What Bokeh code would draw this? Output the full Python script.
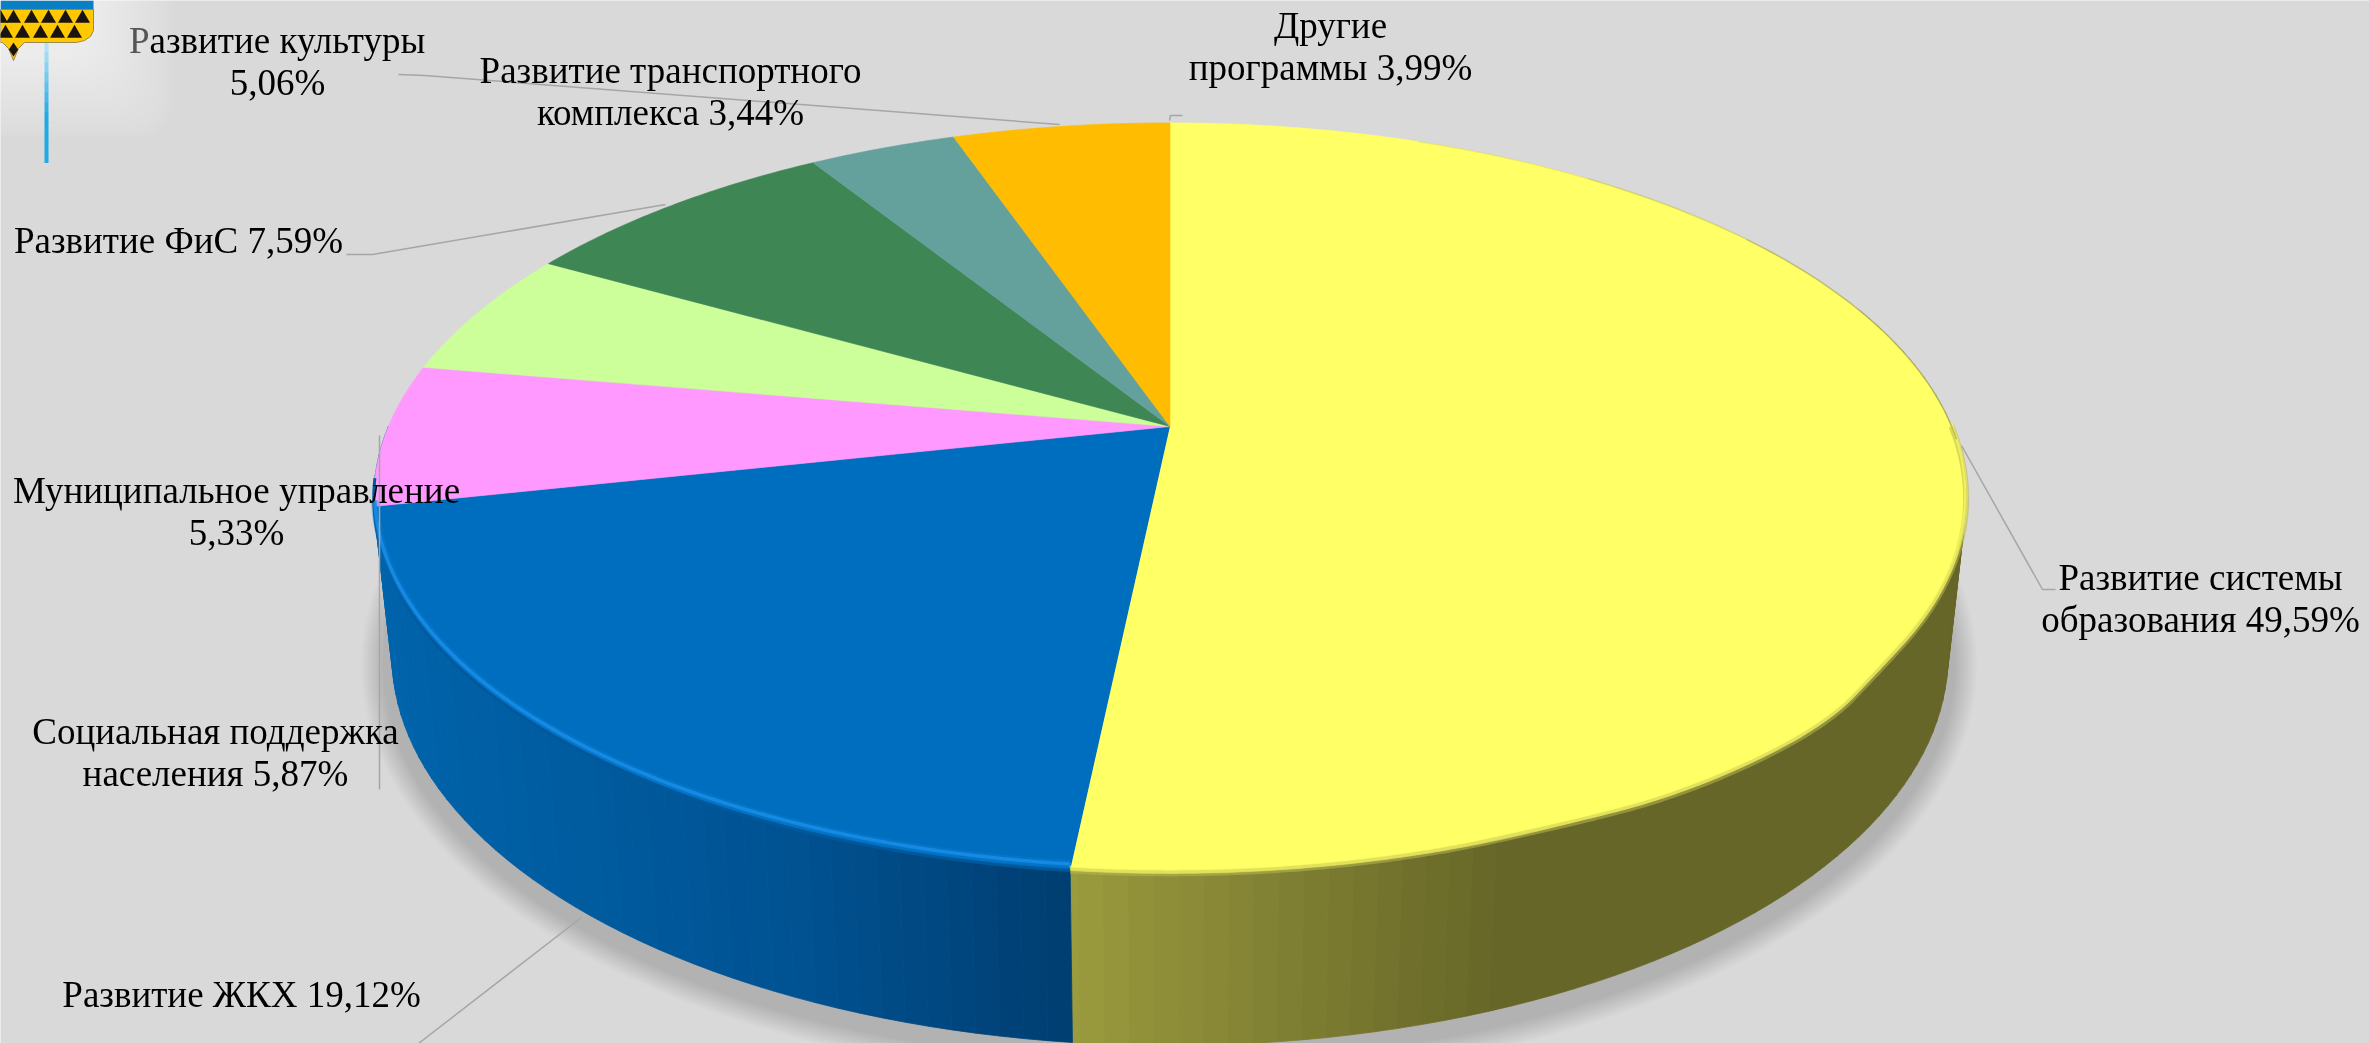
import math
from bokeh.embed import file_html
from bokeh.resources import INLINE
from bokeh.plotting import figure
from bokeh.models import Range1d
from bokeh.core.properties import value

# ---- data ----
slice_names = ["Развитие системы образования", "Развитие ЖКХ", "Социальная поддержка населения",
               "Муниципальное управление", "Развитие ФиС", "Развитие транспортного комплекса",
               "Развитие культуры"]
# visible share of the drawn circle (%), clockwise from 12 o'clock
slice_shares = [51.65, 19.95, 6.1, 5.5, 7.9, 3.6, 5.3]
slice_colors = ["#FFFF66", "#006EBF", "#FF99FF", "#CCFF99", "#3F8655", "#64A19D", "#FFBC00"]

label_lines = [
    ["Развитие системы", "образования 49,59%"],
    ["Развитие ЖКХ 19,12%"],
    ["Социальная поддержка", "населения 5,87%"],
    ["Муниципальное управление", "5,33%"],
    ["Развитие ФиС 7,59%"],
    ["Развитие транспортного", "комплекса 3,44%"],
    ["азвитие культуры", "5,06%"],
    ["Другие", "программы 3,99%"],
]

# ---- layout (page pixels) ----
W, H = 2369, 1043
BG = "#D9D9D9"
CX = 1169.5
TOP = dict(cy=426.0, A=781.6, B=361.6)
LOW = dict(cy=580.5, A=763.7, B=375.8)
K = 0.191
SHADOW = dict(cx=1168.5, cy=665.0, a=778.0, b=390.0)
label_xy = [(2200, 576.5), (241, 994), (215, 731), (236, 489.5), (178, 240), (670, 69.5), (128, 39.5), (1330, 25)]
label_anchor = ["center"] * 8
label_anchor[6] = "left"
LINE_H = 42
LABEL_PT = "37px"
FONT = value("Liberation Serif")
leaders = [
    ([1961, 2042, 2055], [445, 589, 589]),
    ([581, 418], [917, 1043]),
    ([379, 379], [435, 789]),
    ([346, 372, 665], [254, 254, 204]),
    ([398, 424, 1059], [74, 75, 124]),
    ([1169, 1170, 1182], [120, 115, 115]),
]
LEADER = "#A6A6A6"
yellow_rim_x = [1580, 1667, 1760, 1833, 1875]
yellow_rim_y = [821, 798, 760, 718, 674]

p = figure(width=W, height=H, x_range=Range1d(0, W), y_range=Range1d(H, 0),
           toolbar_location=None, output_backend="svg", min_border=0,
           background_fill_color=BG, border_fill_color=BG, outline_line_color=None)
p.axis.visible = False
p.grid.visible = False
p.styles = {"position": "fixed", "left": "0", "top": "0"}


def pt(g, theta):
    """theta in degrees clockwise from the far point of the circle."""
    t = math.radians(theta)
    u, v = math.sin(t), -math.cos(t)
    d = 1 - K * v
    return CX + g["A"] * u / d, g["cy"] + g["B"] * v / d


def arc(g, a0, a1, step=1.0):
    n = max(2, int(abs(a1 - a0) / step) + 1)
    pts = [pt(g, a0 + (a1 - a0) * i / (n - 1)) for i in range(n)]
    return [q[0] for q in pts], [q[1] for q in pts]


def lerp(c0, c1, t):
    t = max(0.0, min(1.0, t))
    return tuple(int(round(a + (b - a) * t)) for a, b in zip(c0, c1))


def hexc(c):
    return "#%02X%02X%02X" % c


def smooth(pts, rounds=3):
    """Corner cutting, keeps both end points."""
    for _ in range(rounds):
        out = [pts[0]]
        for (x0, y0), (x1, y1) in zip(pts[:-1], pts[1:]):
            out.append((0.75 * x0 + 0.25 * x1, 0.75 * y0 + 0.25 * y1))
            out.append((0.25 * x0 + 0.75 * x1, 0.25 * y0 + 0.75 * y1))
        out.append(pts[-1])
        pts = out
    return pts


# soft shadow under the drum
for i in range(13):
    d = 30 - i * 1.8
    p.ellipse([SHADOW["cx"]], [SHADOW["cy"]], width=2 * (SHADOW["a"] + d), height=2 * (SHADOW["b"] + d),
              fill_color="#000000", fill_alpha=0.0105, line_color=None)

# slice boundaries
bounds = [0.0]
for s in slice_shares:
    bounds.append(bounds[-1] + s * 3.6)
yellow_end = bounds[1]
blue_end = bounds[2]


def wall_color(theta, x):
    if theta < yellow_end:
        return lerp((154, 154, 62), (102, 102, 40), (x - 1072) / 420.0)
    if x > 800:
        return lerp((0, 82, 146), (0, 62, 112), (x - 800) / 272.0)
    return lerp((0, 100, 172), (0, 82, 146), (x - 380) / 420.0)


# side wall, drawn as thin facets; only the front half is visible
xs, ys, cs = [], [], []
th = 70.0
step = 1.5
edges = []
while th < 270:
    nxt = min(th + step, 270.0)
    if th < yellow_end < nxt:
        nxt = yellow_end
    edges.append((th, nxt))
    th = nxt
for a, b in edges:
    x0, y0 = pt(TOP, a)
    x1, y1 = pt(TOP, b)
    x2, y2 = pt(LOW, b)
    x3, y3 = pt(LOW, a)
    xs.append([x0, x1, x2, x3])
    ys.append([y0, y1, y2, y3])
    mid = (a + b) / 2
    cs.append(hexc(wall_color(mid, pt(LOW, mid)[0])))
p.patches(xs, ys, fill_color=cs, line_color=cs, line_width=0.8)

# top surface
for i, col in enumerate(slice_colors):
    ax, ay = arc(TOP, bounds[i], bounds[i + 1], step=0.5)
    p.patch([CX] + ax, [TOP["cy"]] + ay, fill_color=col, line_color=col, line_width=0.6)

# the yellow front edge sits a little lower than the ellipse on the right
ex, ey = arc(TOP, 90, yellow_end, step=2.0)
head = [(x, y) for x, y in zip(ex, ey) if x >= 1897]
tail = [(x, y) for x, y in zip(ex, ey) if x <= 1500]
mid_pts = list(zip(reversed(yellow_rim_x), reversed(yellow_rim_y)))
rim_pts = smooth(head + mid_pts + tail)
rim_x = [q[0] for q in rim_pts]
rim_y = [q[1] for q in rim_pts]
p.patch(rim_x + [CX], rim_y + [TOP["cy"]], fill_color=slice_colors[0], line_color=None)

# rim: soft edge on yellow, bright edge on blue
p.line(rim_x, rim_y, line_color="#B8B84E", line_width=6, line_alpha=0.55)
p.line(rim_x, [y - 2 for y in rim_y], line_color="#E6E65C", line_width=3.5, line_alpha=0.7)
p.line([x - 1 for x in rim_x], [y - 4 for y in rim_y], line_color="#FFFF66", line_width=2, line_alpha=0.5)
for a0, a1, alpha in [(22, 38, 0.15), (38, 55, 0.3), (55, 92, 0.5)]:
    rx, ry = arc(TOP, a0, a1)
    p.line(rx, ry, line_color="#8A8A50", line_width=1.5, line_alpha=alpha)

rx, ry = arc(TOP, yellow_end, 262)
p.line(rx, ry, line_color="#00589C", line_width=3)
rx, ry = arc(dict(cy=TOP["cy"] - 4, A=TOP["A"] - 1, B=TOP["B"] - 2), yellow_end, 258)
p.line(rx, ry, line_color="#0A84DC", line_width=8, line_alpha=0.3)
p.line(rx, ry, line_color="#1A8EE6", line_width=3.5, line_alpha=0.85)

# leader lines
for lx, ly in leaders:
    p.line(lx, ly, line_color=LEADER, line_width=1.5)

# pale glow of the coat of arms, under the labels
for i in range(17):
    d = i * 5
    p.quad(left=[-40], right=[172 - d], top=[-40], bottom=[136 - d],
           fill_color="#FFFFFF", fill_alpha=0.055, line_color=None,
           border_radius=36)

# labels
for lines, (lx, ly), anc in zip(label_lines, label_xy, label_anchor):
    if anc == "left":
        p.text([lx + 21], [ly], text=[lines[0]], text_font=FONT, text_font_size=LABEL_PT,
               text_baseline="middle", text_align="left", text_color="#000000")
        p.text([lx + 21], [ly], text=["Р"], text_font=FONT, text_font_size=LABEL_PT,
               text_baseline="middle", text_align="right", text_color="#555555")
        p.text([277], [ly + LINE_H], text=[lines[1]], text_font=FONT, text_font_size=LABEL_PT,
               text_baseline="middle", text_align="center", text_color="#000000")
    else:
        for j, t in enumerate(lines):
            p.text([lx], [ly + j * LINE_H], text=[t], text_font=FONT, text_font_size=LABEL_PT,
                   text_baseline="middle", text_align="center", text_color="#000000")

# coat of arms in the corner
for i in range(12):
    t = i / 11
    y0 = 42 + i * 10
    p.quad(left=[44], right=[48], top=[y0], bottom=[y0 + 10.5],
           fill_color=hexc(lerp((178, 226, 246), (32, 170, 228), t * 1.6)), line_color=None)
p.quad(left=[0], right=[93], top=[0], bottom=[12], fill_color="#0A7FC4", line_color=None)
p.patch([0, 93, 93, 90, 84, 76, 24, 18, 13, 8, 2, 0],
        [9, 9, 30, 36, 40, 42, 42, 48, 60, 48, 42, 42],
        fill_color="#FFC800", line_color="#9A8A50", line_width=1)
row1 = [0, 13, 31, 48, 65, 82]
row2 = [5, 22, 40, 57, 74]
p.scatter(row1, [18] * 6, marker="triangle", size=15, fill_color="#1A1410", line_color=None)
p.scatter(row2, [33] * 5, marker="triangle", size=15, fill_color="#1A1410", line_color=None)
p.scatter([13], [49], marker="diamond", size=14, fill_color="#1A1410", line_color=None)

open("out.html", "w").write(file_html(p, INLINE))
